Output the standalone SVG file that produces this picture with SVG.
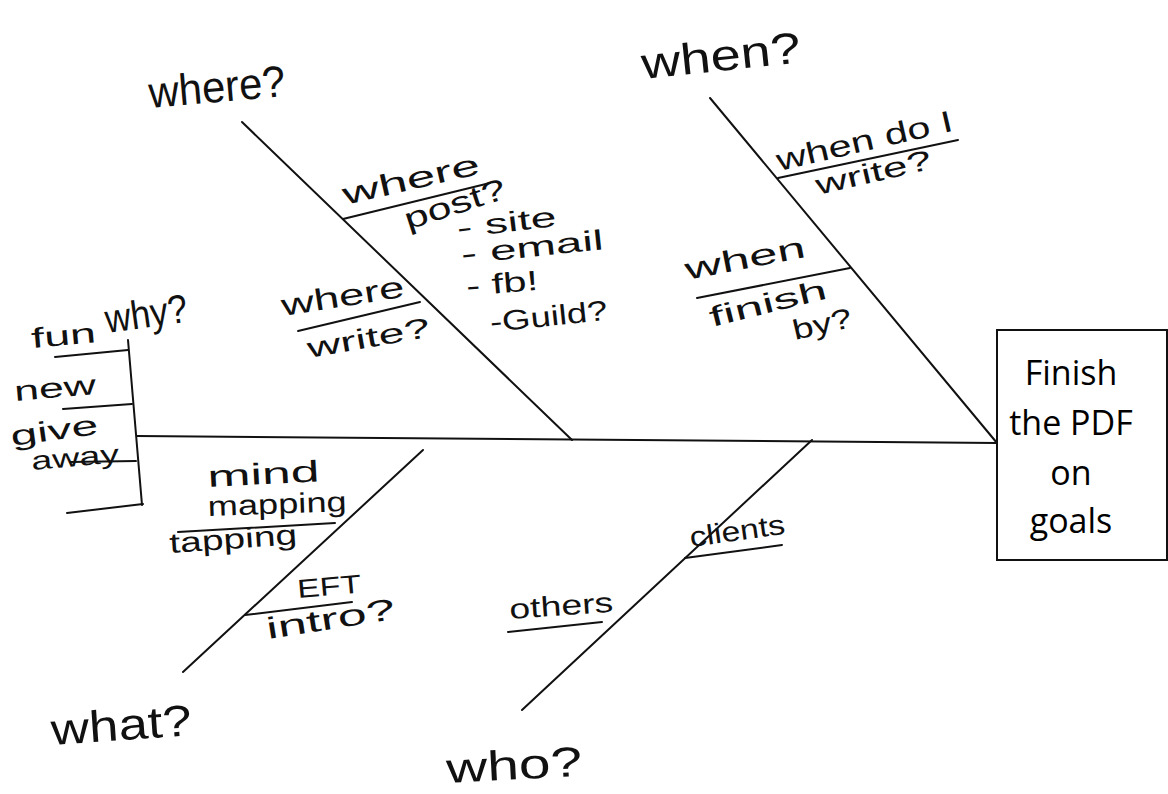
<svg xmlns="http://www.w3.org/2000/svg" width="1168" height="794" viewBox="0 0 1168 794">
<style>
.bg{fill:#ffffff}
.ln{stroke:#111;stroke-width:2;fill:none;stroke-linecap:round}
.hw{font-family:"Liberation Sans",Arial,sans-serif;fill:#111}
.box{fill:#fff;stroke:#111;stroke-width:2}
.bt{font-family:"Open Sans","Noto Sans",sans-serif;font-size:34px;fill:#000;text-anchor:middle}
</style>
<rect class="bg" x="0" y="0" width="1168" height="794"/>
<g id="connectors">
<line class="ln" x1="137" y1="436" x2="997" y2="443"/>
<line class="ln" x1="242" y1="122" x2="572" y2="440"/>
<line class="ln" x1="710" y1="98" x2="997" y2="443"/>
<line class="ln" x1="183" y1="672" x2="423" y2="450"/>
<line class="ln" x1="522" y1="710" x2="812" y2="440"/>
<line class="ln" x1="343" y1="219" x2="490" y2="183"/>
<line class="ln" x1="298" y1="331" x2="420" y2="302"/>
<line class="ln" x1="778" y1="178" x2="958" y2="140"/>
<line class="ln" x1="697" y1="298" x2="850" y2="268"/>
<line class="ln" x1="178" y1="532" x2="335" y2="523"/>
<line class="ln" x1="245" y1="615" x2="352" y2="602"/>
<line class="ln" x1="685" y1="558" x2="782" y2="545"/>
<line class="ln" x1="508" y1="632" x2="602" y2="622"/>
<line class="ln" x1="128" y1="340" x2="142" y2="505"/>
<line class="ln" x1="55" y1="357" x2="128" y2="350"/>
<line class="ln" x1="63" y1="409" x2="132" y2="404"/>
<line class="ln" x1="70" y1="462" x2="136" y2="461"/>
<line class="ln" x1="67" y1="513" x2="143" y2="504"/>
</g>
<g id="effect">
<rect class="box" x="997" y="330" width="170" height="230"/>
<text class="bt" x="1071" y="385">Finish</text>
<text class="bt" x="1071" y="435">the PDF</text>
<text class="bt" x="1071" y="485">on</text>
<text class="bt" x="1071" y="533">goals</text>
</g>
<g id="cat-where">
<text class="hw" font-size="44" x="150" y="108" textLength="137" lengthAdjust="spacingAndGlyphs" transform="rotate(-5 150 108)">where?</text>
<text class="hw" font-size="30" x="345" y="205" textLength="140" lengthAdjust="spacingAndGlyphs" transform="rotate(-13 345 205)">where</text>
<text class="hw" font-size="30" x="408" y="230" textLength="105" lengthAdjust="spacingAndGlyphs" transform="rotate(-18 408 230)">post?</text>
<text class="hw" font-size="28" x="458" y="238" textLength="100" lengthAdjust="spacingAndGlyphs" transform="rotate(-7 458 238)">- site</text>
<text class="hw" font-size="28" x="462" y="264" textLength="143" lengthAdjust="spacingAndGlyphs" transform="rotate(-6 462 264)">- email</text>
<text class="hw" font-size="28" x="467" y="296" textLength="72" lengthAdjust="spacingAndGlyphs" transform="rotate(-5 467 296)">- fb!</text>
<text class="hw" font-size="28" x="491" y="332" textLength="118" lengthAdjust="spacingAndGlyphs" transform="rotate(-6 491 332)">-Guild?</text>
<text class="hw" font-size="30" x="283" y="316" textLength="124" lengthAdjust="spacingAndGlyphs" transform="rotate(-9 283 316)">where</text>
<text class="hw" font-size="28" x="309" y="358" textLength="124" lengthAdjust="spacingAndGlyphs" transform="rotate(-10 309 358)">write?</text>
</g>
<g id="cat-when">
<text class="hw" font-size="44" x="643" y="79" textLength="160" lengthAdjust="spacingAndGlyphs" transform="rotate(-6 643 79)">when?</text>
<text class="hw" font-size="30" x="779" y="171" textLength="180" lengthAdjust="spacingAndGlyphs" transform="rotate(-13 779 171)">when do I</text>
<text class="hw" font-size="28" x="818" y="195" textLength="118" lengthAdjust="spacingAndGlyphs" transform="rotate(-13 818 195)">write?</text>
<text class="hw" font-size="30" x="687" y="280" textLength="122" lengthAdjust="spacingAndGlyphs" transform="rotate(-11 687 280)">when</text>
<text class="hw" font-size="28" x="712" y="327" textLength="120" lengthAdjust="spacingAndGlyphs" transform="rotate(-14 712 327)">finish</text>
<text class="hw" font-size="28" x="795" y="340" textLength="60" lengthAdjust="spacingAndGlyphs" transform="rotate(-13 795 340)">by?</text>
</g>
<g id="cat-what">
<text class="hw" font-size="44" x="52" y="745" textLength="141" lengthAdjust="spacingAndGlyphs" transform="rotate(-4 52 745)">what?</text>
<text class="hw" font-size="30" x="208" y="487" textLength="112" lengthAdjust="spacingAndGlyphs" transform="rotate(-3 208 487)">mind</text>
<text class="hw" font-size="28" x="208" y="516" textLength="139" lengthAdjust="spacingAndGlyphs" transform="rotate(-2 208 516)">mapping</text>
<text class="hw" font-size="28" x="170" y="553" textLength="128" lengthAdjust="spacingAndGlyphs" transform="rotate(-4 170 553)">tapping</text>
<text class="hw" font-size="26" x="298" y="598" textLength="64" lengthAdjust="spacingAndGlyphs" transform="rotate(-5 298 598)">EFT</text>
<text class="hw" font-size="30" x="268" y="639" textLength="130" lengthAdjust="spacingAndGlyphs" transform="rotate(-9 268 639)">intro?</text>
</g>
<g id="cat-who">
<text class="hw" font-size="42" x="447" y="783" textLength="136" lengthAdjust="spacingAndGlyphs" transform="rotate(-3 447 783)">who?</text>
<text class="hw" font-size="28" x="691" y="547" textLength="96" lengthAdjust="spacingAndGlyphs" transform="rotate(-8 691 547)">clients</text>
<text class="hw" font-size="28" x="510" y="619" textLength="104" lengthAdjust="spacingAndGlyphs" transform="rotate(-4 510 619)">others</text>
</g>
<g id="cat-why">
<text class="hw" font-size="40" x="107" y="333" textLength="83" lengthAdjust="spacingAndGlyphs" transform="rotate(-8 107 333)">why?</text>
<text class="hw" font-size="28" x="32" y="348" textLength="65" lengthAdjust="spacingAndGlyphs" transform="rotate(-5 32 348)">fun</text>
<text class="hw" font-size="28" x="15" y="401" textLength="82" lengthAdjust="spacingAndGlyphs" transform="rotate(-5 15 401)">new</text>
<text class="hw" font-size="28" x="12" y="446" textLength="88" lengthAdjust="spacingAndGlyphs" transform="rotate(-8 12 446)">give</text>
<text class="hw" font-size="26" x="32" y="470" textLength="88" lengthAdjust="spacingAndGlyphs" transform="rotate(-5 32 470)">away</text>
</g>
</svg>
